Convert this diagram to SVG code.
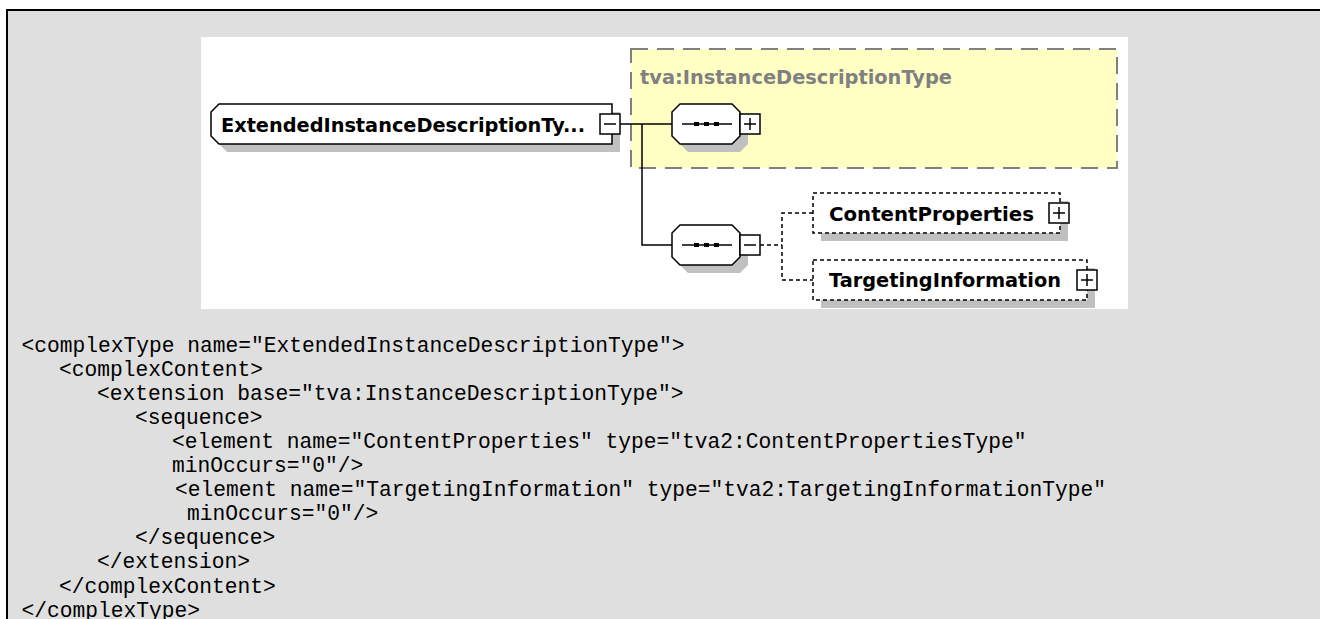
<svg xmlns="http://www.w3.org/2000/svg" width="1320" height="619" viewBox="0 0 1320 619">
<defs>
<style>
.el{fill:#fff;stroke:#000;stroke-width:1.5}
.eld{fill:#fff;stroke:#000;stroke-width:1.5;stroke-dasharray:4 3}
.sh{fill:#c0c0c0;stroke:none}
.box{fill:#fff;stroke:#000;stroke-width:1.5}
.sign{stroke:#000;stroke-width:1.5;fill:none}
.ln{stroke:#000;stroke-width:1.5;fill:none}
.lnd{stroke:#000;stroke-width:1.5;fill:none;stroke-dasharray:4 3}
.lbl{font-family:"DejaVu Sans","Liberation Sans",sans-serif;font-weight:bold;font-size:20px;fill:#000}
.code{font-family:"Liberation Mono","Courier New",monospace;font-size:21.25px;fill:#000}
</style>
</defs>
<rect x="0" y="0" width="1320" height="619" fill="#fff"/>
<rect x="8" y="11" width="1312" height="608" fill="#dfdfdf"/>
<line x1="6" y1="10" x2="1320" y2="10" stroke="#000" stroke-width="2"/>
<line x1="7" y1="9" x2="7" y2="619" stroke="#000" stroke-width="2"/>
<rect x="201" y="37" width="927" height="272" fill="#fff"/>

<g id="base-type">
<rect x="631" y="49" width="486" height="119" fill="#ffffc4" stroke="#808080" stroke-width="2" stroke-dasharray="17 9"/>
<text x="640" y="84" class="lbl" fill="#808080" style="fill:#808080" textLength="312" lengthAdjust="spacingAndGlyphs">tva:InstanceDescriptionType</text>
</g>

<g id="connectors">
<line class="ln" x1="620" y1="124" x2="672" y2="124"/>
<polyline class="ln" points="642,124 642,245 672,245"/>
<polyline class="lnd" points="760,245 782,245"/>
<polyline class="lnd" points="813,213 782,213 782,280 813,280"/>
</g>

<g id="root">
<path class="sh" d="M227,112 H620 V152 H227 L219,144 V120 Z"/>
<path class="el" d="M219,104 H612 V144 H219 L211,136 V112 Z"/>
<text x="221" y="131.5" class="lbl" textLength="364" lengthAdjust="spacingAndGlyphs">ExtendedInstanceDescriptionTy...</text>
<rect class="box" x="600" y="114" width="20" height="20"/>
<line class="sign" x1="604" y1="124" x2="616" y2="124"/>
</g>

<g id="seq1">
<path class="sh" d="M688,112 H740 L748,120 V144 L740,152 H688 L680,144 V120 Z"/>
<path class="el" d="M680,104 H732 L740,112 V136 L732,144 H680 L672,136 V112 Z"/>
<line class="ln" x1="682" y1="124" x2="732" y2="124"/>
<rect x="694" y="122" width="5" height="4" fill="#000"/>
<rect x="704" y="122" width="5" height="4" fill="#000"/>
<rect x="714" y="122" width="5" height="4" fill="#000"/>
<rect class="box" x="740" y="114" width="20" height="20"/>
<line class="sign" x1="744" y1="124" x2="756" y2="124"/>
<line class="sign" x1="750" y1="118" x2="750" y2="130"/>
</g>

<g id="seq2">
<path class="sh" d="M688,233 H740 L748,241 V265 L740,273 H688 L680,265 V241 Z"/>
<path class="el" d="M680,225 H732 L740,233 V257 L732,265 H680 L672,257 V233 Z"/>
<line class="ln" x1="682" y1="245" x2="732" y2="245"/>
<rect x="694" y="243" width="5" height="4" fill="#000"/>
<rect x="704" y="243" width="5" height="4" fill="#000"/>
<rect x="714" y="243" width="5" height="4" fill="#000"/>
<rect class="box" x="740" y="235" width="20" height="20"/>
<line class="sign" x1="744" y1="245" x2="756" y2="245"/>
</g>

<g id="content-properties">
<rect class="sh" x="821" y="201" width="247" height="40"/>
<rect class="eld" x="813" y="193" width="247" height="40"/>
<text x="829" y="220.5" class="lbl" textLength="205" lengthAdjust="spacingAndGlyphs">ContentProperties</text>
<rect class="box" x="1049" y="203" width="20" height="20"/>
<line class="sign" x1="1053" y1="213" x2="1065" y2="213"/>
<line class="sign" x1="1059" y1="207" x2="1059" y2="219"/>
</g>

<g id="targeting-information">
<rect class="sh" x="821" y="268" width="274" height="40"/>
<rect class="eld" x="813" y="260" width="274" height="40"/>
<text x="829" y="287" class="lbl" textLength="232" lengthAdjust="spacingAndGlyphs">TargetingInformation</text>
<rect class="box" x="1077" y="270" width="20" height="20"/>
<line class="sign" x1="1081" y1="280" x2="1093" y2="280"/>
<line class="sign" x1="1087" y1="274" x2="1087" y2="286"/>
</g>

<g id="code">
<text class="code" x="21.5" y="352">&lt;complexType name="ExtendedInstanceDescriptionType"&gt;</text>
<text class="code" x="59" y="376">&lt;complexContent&gt;</text>
<text class="code" x="97" y="400">&lt;extension base="tva:InstanceDescriptionType"&gt;</text>
<text class="code" x="135" y="424">&lt;sequence&gt;</text>
<text class="code" x="172" y="448">&lt;element name="ContentProperties" type="tva2:ContentPropertiesType"</text>
<text class="code" x="172" y="472">minOccurs="0"/&gt;</text>
<text class="code" x="175" y="496">&lt;element name="TargetingInformation" type="tva2:TargetingInformationType"</text>
<text class="code" x="187" y="520">minOccurs="0"/&gt;</text>
<text class="code" x="135" y="544">&lt;/sequence&gt;</text>
<text class="code" x="97" y="568">&lt;/extension&gt;</text>
<text class="code" x="59" y="593">&lt;/complexContent&gt;</text>
<text class="code" x="21.5" y="617">&lt;/complexType&gt;</text>
</g>
</svg>
